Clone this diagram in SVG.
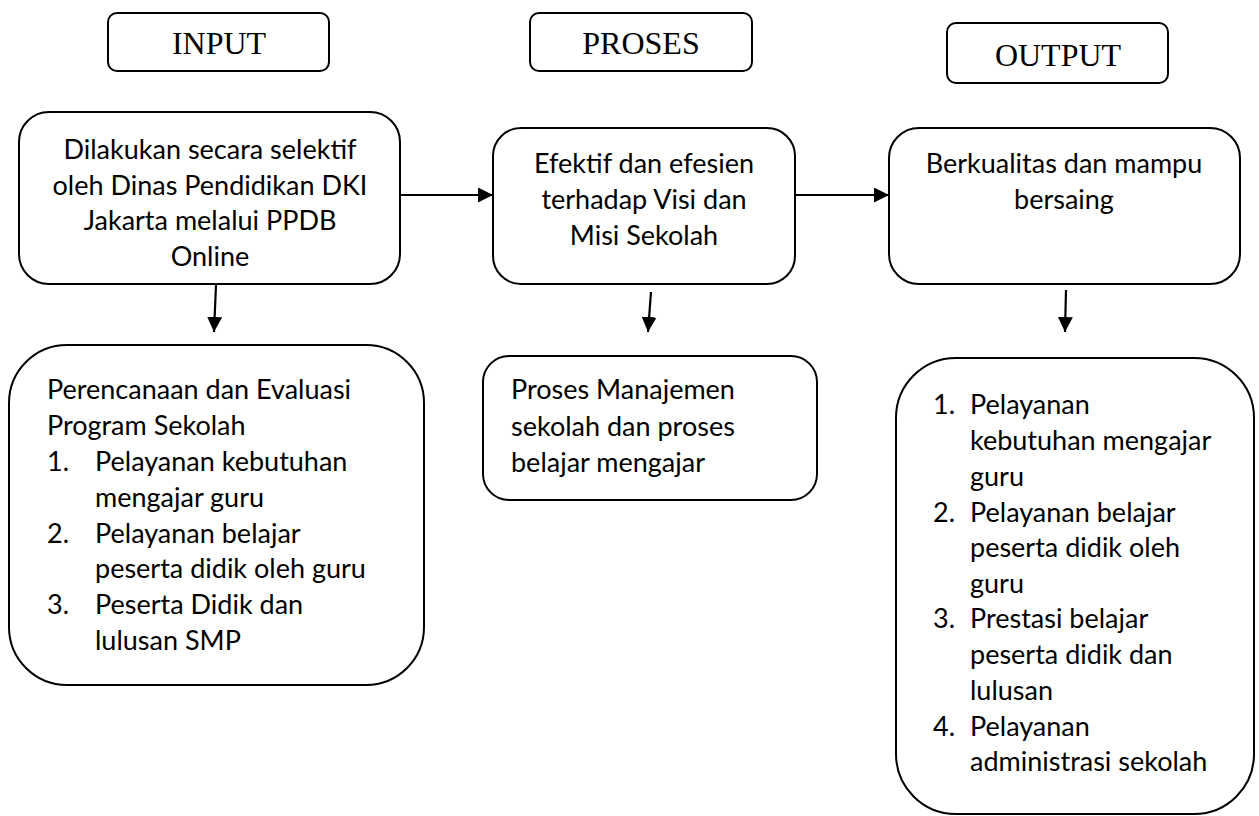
<svg xmlns="http://www.w3.org/2000/svg" width="1259" height="816" viewBox="0 0 1259 816">
<style>
.box{fill:#fff;stroke:#000;stroke-width:2}
.hdr{font-family:"Liberation Serif","Times New Roman",serif;font-size:32px;fill:#000;text-anchor:middle}
.t{font-family:Lato,"Open Sans",sans-serif;font-size:27px;fill:#000}
.c{text-anchor:middle}
.conn{stroke:#000;stroke-width:2.2;fill:none;marker-end:url(#arr)}
</style>
<defs>
<marker id="arr" markerUnits="userSpaceOnUse" markerWidth="16" markerHeight="16" refX="15" refY="7.5" orient="auto">
<path d="M0,0 L15,7.5 L0,15 Z" fill="#000"/>
</marker>
</defs>
<rect width="1259" height="816" fill="#fff"/>

<g id="hdr-input">
<rect class="box" x="108" y="13" width="221" height="58" rx="9"/>
<text class="hdr" x="219" y="54">INPUT</text>
</g>
<g id="hdr-proses">
<rect class="box" x="530" y="13" width="222" height="58" rx="9"/>
<text class="hdr" x="641" y="54">PROSES</text>
</g>
<g id="hdr-output">
<rect class="box" x="947" y="23" width="221" height="60" rx="9"/>
<text class="hdr" x="1058" y="66">OUTPUT</text>
</g>

<g id="input-main">
<rect class="box" x="19" y="112" width="381" height="172" rx="30"/>
<text class="t c" x="210" y="159">Dilakukan secara selektif</text>
<text class="t c" x="210" y="195">oleh Dinas Pendidikan DKI</text>
<text class="t c" x="210" y="230">Jakarta melalui PPDB</text>
<text class="t c" x="210" y="266">Online</text>
</g>

<g id="proses-main">
<rect class="box" x="493" y="128" width="302" height="156" rx="28"/>
<text class="t c" x="644" y="173">Efektif dan efesien</text>
<text class="t c" x="644" y="209">terhadap Visi dan</text>
<text class="t c" x="644" y="245">Misi Sekolah</text>
</g>

<g id="output-main">
<rect class="box" x="889" y="128" width="351" height="156" rx="30"/>
<text class="t c" x="1064" y="173">Berkualitas dan mampu</text>
<text class="t c" x="1064" y="209">bersaing</text>
</g>

<g id="input-detail">
<rect class="box" x="9" y="345" width="415" height="340" rx="58"/>
<text class="t" x="47" y="399">Perencanaan dan Evaluasi</text>
<text class="t" x="47" y="435">Program Sekolah</text>
<text class="t" x="47" y="471">1.</text>
<text class="t" x="95" y="471">Pelayanan kebutuhan</text>
<text class="t" x="95" y="507">mengajar guru</text>
<text class="t" x="47" y="543">2.</text>
<text class="t" x="95" y="543">Pelayanan belajar</text>
<text class="t" x="95" y="578">peserta didik oleh guru</text>
<text class="t" x="47" y="614">3.</text>
<text class="t" x="95" y="614">Peserta Didik dan</text>
<text class="t" x="95" y="650">lulusan SMP</text>
</g>

<g id="proses-detail">
<rect class="box" x="483" y="356" width="334" height="144" rx="26"/>
<text class="t" x="511" y="399">Proses Manajemen</text>
<text class="t" x="511" y="436">sekolah dan proses</text>
<text class="t" x="511" y="472">belajar mengajar</text>
</g>

<g id="output-detail">
<rect class="box" x="896" y="358" width="358" height="456" rx="60"/>
<text class="t" x="933" y="414">1.</text>
<text class="t" x="970" y="414">Pelayanan</text>
<text class="t" x="970" y="450">kebutuhan mengajar</text>
<text class="t" x="970" y="486">guru</text>
<text class="t" x="933" y="522">2.</text>
<text class="t" x="970" y="522">Pelayanan belajar</text>
<text class="t" x="970" y="557">peserta didik oleh</text>
<text class="t" x="970" y="593">guru</text>
<text class="t" x="933" y="628">3.</text>
<text class="t" x="970" y="628">Prestasi belajar</text>
<text class="t" x="970" y="664">peserta didik dan</text>
<text class="t" x="970" y="700">lulusan</text>
<text class="t" x="933" y="736">4.</text>
<text class="t" x="970" y="736">Pelayanan</text>
<text class="t" x="970" y="771">administrasi sekolah</text>
</g>

<g id="connectors">
<line class="conn" x1="401" y1="195" x2="493" y2="195"/>
<line class="conn" x1="796" y1="195" x2="889" y2="195"/>
<line class="conn" x1="216" y1="285" x2="214" y2="332"/>
<line class="conn" x1="651" y1="292" x2="648" y2="332"/>
<line class="conn" x1="1066" y1="290" x2="1065" y2="332"/>
</g>
</svg>
